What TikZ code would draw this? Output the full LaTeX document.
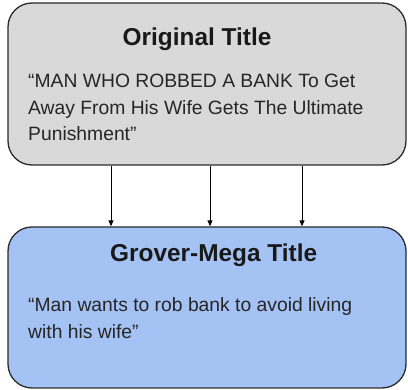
\documentclass[tikz,border=0pt]{standalone}
\usepackage{fontspec}
\setmainfont{Liberation Sans}
\usetikzlibrary{arrows.meta}
\definecolor{boxgray}{HTML}{D9D9D9}
\definecolor{boxblue}{HTML}{A4C2F4}
\definecolor{edge}{HTML}{2B2B2B}
\tikzset{
  panel/.style={draw=edge, line width=1.3pt, rounded corners=24pt, minimum width=398pt, inner sep=0pt},
  ttl/.style={anchor=base west, inner sep=0pt, font=\fontsize{24.4}{28}\selectfont\bfseries, text=black!90},
  bodytext/.style={anchor=base west, inner sep=0pt, font=\fontsize{19.3}{26.5}\selectfont, text=black!85, align=left},
  link/.style={draw=black, line width=0.9pt, -{Triangle[length=6pt,width=5pt]}}
}
\begin{document}
\begin{tikzpicture}[x=1pt,y=1pt]
\useasboundingbox (0,0) rectangle (408,-390);
\node[panel, fill=boxgray, minimum height=162pt] (orig) at (207,-84) {};
\node[panel, fill=boxblue, minimum height=161pt] (grov) at (207,-307.5) {};
\node[ttl] (origttl) at (122.5,-46) {Original Title};
\node[bodytext] (origbody) at (28,-141) {“MAN WHO ROBBED A BANK To Get\\Away From His Wife Gets The Ultimate\\Punishment”};
\node[ttl] (grovttl) at (110,-262) {Grover-Mega Title};
\node[bodytext, font=\fontsize{19.3}{27}\selectfont] (grovbody) at (28,-339) {“Man wants to rob bank to avoid living\\with his wife”};
\coordinate (c1) at (111,0);
\coordinate (c2) at (210,0);
\coordinate (c3) at (302,0);
\draw[link] (orig.south -| c1) -- (grov.north -| c1);
\draw[link] (orig.south -| c2) -- (grov.north -| c2);
\draw[link] (orig.south -| c3) -- (grov.north -| c3);
\end{tikzpicture}
\end{document}
